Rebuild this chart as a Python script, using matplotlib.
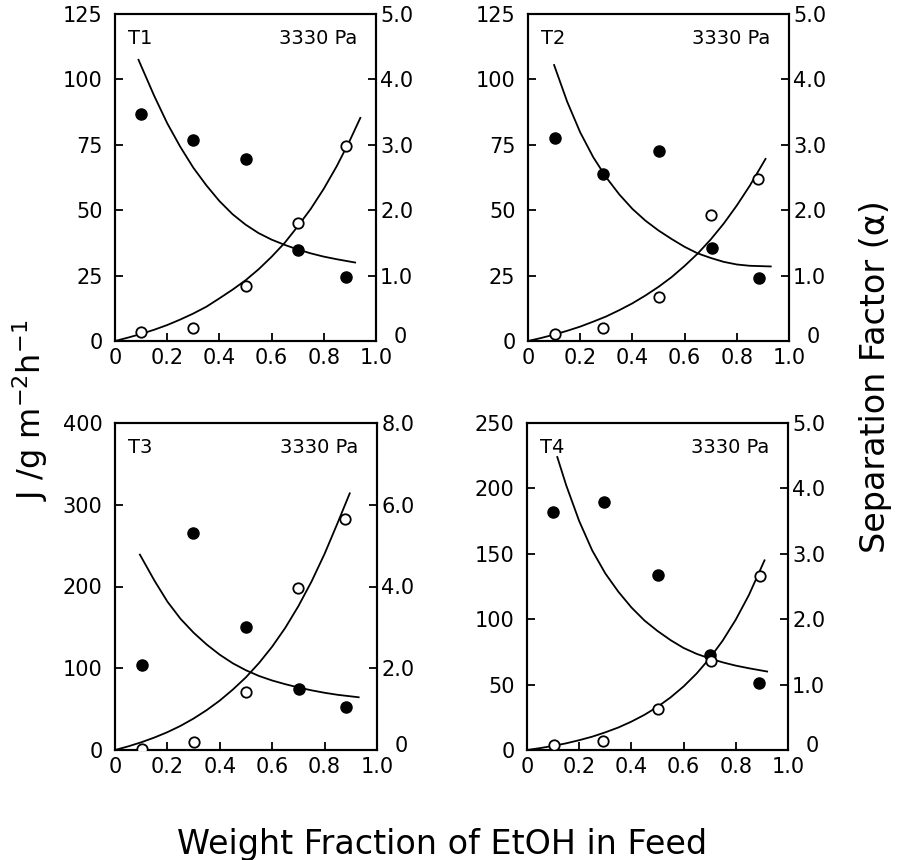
import matplotlib
matplotlib.use("Agg")
import matplotlib.pyplot as plt

plt.rcParams['font.family'] = ['DejaVu Sans']

# ---------------- data ----------------
panel_names = ["T1", "T2", "T3", "T4"]
pressure_label = "3330 Pa"

# measured points (x = weight fraction EtOH in feed)
T1_flux_x = [0.10, 0.30, 0.50, 0.70, 0.885]
T1_flux = [3.4, 5.1, 20.9, 45.2, 74.6]
T1_alpha_x = [0.10, 0.30, 0.50, 0.70, 0.885]
T1_alpha = [3.47, 3.08, 2.79, 1.39, 0.98]

T2_flux_x = [0.105, 0.288, 0.503, 0.703, 0.882]
T2_flux = [2.8, 5.0, 16.8, 48.1, 62.1]
T2_alpha_x = [0.103, 0.288, 0.502, 0.705, 0.885]
T2_alpha = [3.11, 2.55, 2.91, 1.42, 0.96]

T3_flux_x = [0.102, 0.302, 0.50, 0.698, 0.876]
T3_flux = [0.8, 10.2, 70.8, 198.0, 283.0]
T3_alpha_x = [0.102, 0.298, 0.50, 0.702, 0.88]
T3_alpha = [2.09, 5.32, 3.00, 1.49, 1.06]

T4_flux_x = [0.102, 0.29, 0.502, 0.704, 0.891]
T4_flux = [3.8, 7.1, 31.1, 68.1, 132.7]
T4_alpha_x = [0.10, 0.296, 0.503, 0.70, 0.889]
T4_alpha = [3.64, 3.79, 2.68, 1.45, 1.02]

# fitted curves
T1_flux_curve_x = [0, 0.05, 0.1, 0.15, 0.2, 0.25, 0.3, 0.35, 0.4, 0.45, 0.5, 0.55, 0.6, 0.65, 0.7, 0.75, 0.8, 0.85, 0.9, 0.94]
T1_flux_curve = [0, 1.3, 2.7, 4.3, 6.1, 8.2, 10.5, 13.1, 16.3, 19.6, 23.2, 27.4, 32.2, 37.5, 43.8, 50.5, 58.2, 66.9, 76.7, 85.3]
T1_alpha_curve_x = [0.09, 0.15, 0.2, 0.25, 0.3, 0.35, 0.4, 0.45, 0.5, 0.55, 0.6, 0.65, 0.7, 0.75, 0.8, 0.85, 0.92]
T1_alpha_curve = [4.30, 3.75, 3.33, 2.97, 2.65, 2.38, 2.14, 1.94, 1.78, 1.65, 1.55, 1.47, 1.40, 1.34, 1.29, 1.25, 1.20]

T2_flux_curve_x = [0, 0.05, 0.1, 0.15, 0.2, 0.25, 0.3, 0.35, 0.4, 0.45, 0.5, 0.55, 0.6, 0.65, 0.7, 0.75, 0.8, 0.85, 0.91]
T2_flux_curve = [0, 1.15, 2.44, 3.9, 5.5, 7.4, 9.4, 11.8, 14.4, 17.4, 20.7, 24.4, 28.7, 33.4, 38.8, 44.9, 51.8, 59.4, 69.6]
T2_alpha_curve_x = [0.10, 0.15, 0.2, 0.25, 0.3, 0.35, 0.4, 0.45, 0.5, 0.55, 0.6, 0.65, 0.7, 0.75, 0.8, 0.85, 0.93]
T2_alpha_curve = [4.22, 3.66, 3.19, 2.81, 2.50, 2.24, 2.02, 1.84, 1.69, 1.56, 1.44, 1.34, 1.27, 1.21, 1.17, 1.15, 1.14]

T3_flux_curve_x = [0, 0.05, 0.1, 0.15, 0.2, 0.25, 0.3, 0.35, 0.4, 0.45, 0.5, 0.55, 0.6, 0.65, 0.7, 0.75, 0.8, 0.85, 0.896]
T3_flux_curve = [0, 4.4, 9.4, 15.2, 21.8, 29.5, 38.5, 48.8, 60.5, 74.0, 89.0, 106.5, 126.5, 149.5, 176.0, 206.0, 240.0, 278.0, 314.0]
T3_alpha_curve_x = [0.095, 0.15, 0.2, 0.25, 0.3, 0.35, 0.4, 0.45, 0.5, 0.55, 0.6, 0.65, 0.7, 0.75, 0.8, 0.85, 0.93]
T3_alpha_curve = [4.78, 4.15, 3.63, 3.21, 2.87, 2.58, 2.33, 2.12, 1.95, 1.81, 1.70, 1.61, 1.53, 1.46, 1.40, 1.35, 1.29]

T4_flux_curve_x = [0, 0.05, 0.1, 0.15, 0.2, 0.25, 0.3, 0.35, 0.4, 0.45, 0.5, 0.55, 0.6, 0.65, 0.7, 0.75, 0.8, 0.85, 0.91]
T4_flux_curve = [0, 1.45, 3.15, 5.1, 7.5, 10.2, 13.5, 17.2, 21.7, 26.9, 33.0, 40.2, 48.6, 58.5, 70.1, 83.7, 99.7, 118.4, 145.0]
T4_alpha_curve_x = [0.116, 0.15, 0.2, 0.25, 0.3, 0.35, 0.4, 0.45, 0.5, 0.55, 0.6, 0.65, 0.7, 0.75, 0.8, 0.85, 0.92]
T4_alpha_curve = [4.48, 4.05, 3.50, 3.05, 2.70, 2.42, 2.18, 1.98, 1.82, 1.68, 1.56, 1.47, 1.40, 1.34, 1.29, 1.25, 1.20]

x_ticks = [0, 0.2, 0.4, 0.6, 0.8, 1.0]
x_ticklabels = ["0", "0.2", "0.4", "0.6", "0.8", "1.0"]

T1_flux_ticks = [0, 25, 50, 75, 100, 125]
T2_flux_ticks = [0, 25, 50, 75, 100, 125]
T3_flux_ticks = [0, 100, 200, 300, 400]
T4_flux_ticks = [0, 50, 100, 150, 200, 250]

T1_alpha_ticks = [0, 1.0, 2.0, 3.0, 4.0, 5.0]
T2_alpha_ticks = [0, 1.0, 2.0, 3.0, 4.0, 5.0]
T3_alpha_ticks = [0, 2.0, 4.0, 6.0, 8.0]
T4_alpha_ticks = [0, 1.0, 2.0, 3.0, 4.0, 5.0]

panels = [
    (T1_flux_x, T1_flux, T1_alpha_x, T1_alpha, T1_flux_curve_x, T1_flux_curve,
     T1_alpha_curve_x, T1_alpha_curve, T1_flux_ticks, T1_alpha_ticks),
    (T2_flux_x, T2_flux, T2_alpha_x, T2_alpha, T2_flux_curve_x, T2_flux_curve,
     T2_alpha_curve_x, T2_alpha_curve, T2_flux_ticks, T2_alpha_ticks),
    (T3_flux_x, T3_flux, T3_alpha_x, T3_alpha, T3_flux_curve_x, T3_flux_curve,
     T3_alpha_curve_x, T3_alpha_curve, T3_flux_ticks, T3_alpha_ticks),
    (T4_flux_x, T4_flux, T4_alpha_x, T4_alpha, T4_flux_curve_x, T4_flux_curve,
     T4_alpha_curve_x, T4_alpha_curve, T4_flux_ticks, T4_alpha_ticks),
]

# ---------------- layout ----------------
fig = plt.figure(figsize=(8.99, 8.60), dpi=100)
W, H = 899, 860
boxes = [(115, 14, 376, 341), (528, 14, 789, 341),
         (115, 423, 377, 750), (527, 423, 788, 750)]

TICK_FS = 15
for name, box, p in zip(panel_names, boxes, panels):
    (fx, fy, ax_x, ay, fcx, fcy, acx, acy, fticks, aticks) = p
    l, t, r, b = box
    ax = fig.add_axes([l / W, 1 - b / H, (r - l) / W, (b - t) / H])
    ax2 = ax.twinx()
    ax.set_zorder(2)
    ax.patch.set_visible(False)

    ax.plot(fcx, fcy, color="black", lw=1.3, zorder=2)
    ax2.plot(acx, acy, color="black", lw=1.3, zorder=2)
    ax2.plot(ax_x, ay, "o", color="black", ms=8, zorder=3)
    ax.plot(fx, fy, "o", mfc="white", mec="black", mew=1.3, ms=7.5, zorder=3)

    ax.set_xlim(0, 1.0)
    ax.set_ylim(fticks[0], fticks[-1])
    ax2.set_ylim(aticks[0], aticks[-1])

    ax.set_xticks(x_ticks)
    ax.set_xticklabels(x_ticklabels)
    ax.set_yticks(fticks)
    ax.set_yticklabels([str(v) for v in fticks])
    ax2.set_yticks(aticks)
    ax2.set_yticklabels([""] + ["%.1f" % v for v in aticks[1:]])
    # the right-axis zero sits just beyond the "1.0" of the x axis
    ax2.annotate("0", xy=(1.0, 0.0), xycoords="axes fraction",
                 xytext=(13, 3), textcoords="offset points",
                 ha="left", va="center", fontsize=TICK_FS)

    ax.tick_params(axis="x", direction="in", length=6, width=1.3,
                   labelsize=TICK_FS, pad=5)
    ax.tick_params(axis="y", direction="in", length=6, width=1.3,
                   labelsize=TICK_FS, pad=9)
    ax2.tick_params(axis="y", direction="in", length=6, width=1.3,
                    labelsize=TICK_FS, pad=3)
    for a in (ax, ax2):
        for s in a.spines.values():
            s.set_linewidth(1.5)

    ax.text(0.05, 0.955, name, transform=ax.transAxes, ha="left", va="top",
            fontsize=14)
    ax.text(0.93, 0.955, pressure_label, transform=ax.transAxes, ha="right",
            va="top", fontsize=14)

fig.text(30 / W, 1 - 410 / H, r"J /g m$^{-2}$h$^{-1}$", rotation=90,
         ha="center", va="center", fontsize=23)
fig.text(875 / W, 1 - 377 / H, "Separation Factor (α)", rotation=90,
         ha="center", va="center", fontsize=24)
fig.text(442 / W, 6 / H, "Weight Fraction of EtOH in Feed",
         ha="center", va="baseline", fontsize=24)

fig.savefig("out.png", dpi=100)
